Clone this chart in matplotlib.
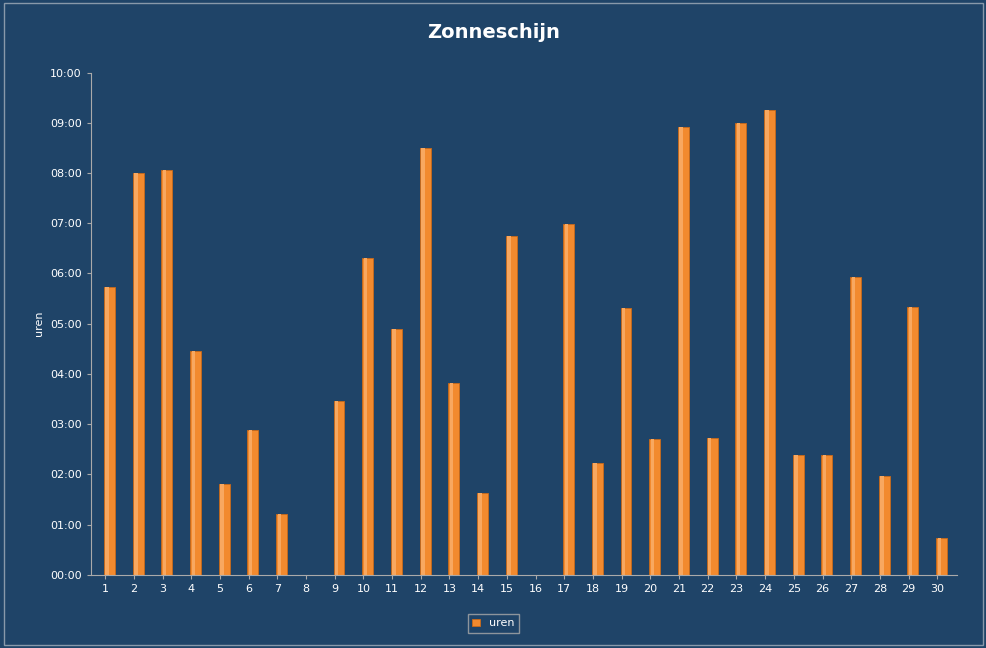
import matplotlib
matplotlib.use("Agg")
import matplotlib.pyplot as plt
import numpy as np

days = list(range(1, 31))
hours = [5.74, 8.0, 8.07, 4.46, 1.81, 2.89, 1.21, 0, 3.47, 6.31, 4.9, 8.5, 3.82, 1.63, 6.75,
         0, 6.99, 2.23, 5.32, 2.71, 8.92, 2.73, 9.0, 9.26, 2.39, 2.39, 5.92, 1.97, 5.34, 0.74]
ytick_labels = ["%02d:00" % h for h in range(11)]

bg = "#1F4468"
fig = plt.figure(figsize=(9.87, 6.48), dpi=100, facecolor=bg)
fig.patches.append(plt.Rectangle((0.004, 0.004), 0.992, 0.992, transform=fig.transFigure,
                                 fill=False, edgecolor="#8899aa", lw=1))
ax = fig.add_axes([0.092, 0.113, 0.878, 0.775], facecolor=bg)
x = np.arange(len(days))
ax.bar(x + 0.15, hours, width=0.38, color="#F28A2E", edgecolor="#C96A1A", lw=0.6, label="uren")
ax.bar(x + 0.07, hours, width=0.12, color="#F8A860", lw=0)
ax.set_xlim(-0.5, len(days) - 0.3)
ax.set_ylim(0, 10)
ax.tick_params(colors="#aaaaaa", labelcolor="white", length=3)
ax.set_yticks(range(11))
ax.set_yticklabels(ytick_labels, fontsize=8)
ax.set_xticks(x)
ax.set_xticklabels([str(d) for d in days], fontsize=8)
for s in ["top", "right"]:
    ax.spines[s].set_visible(False)
for s in ["left", "bottom"]:
    ax.spines[s].set_color("#aaaaaa")
ax.set_ylabel("uren", color="white", fontsize=8)
fig.suptitle("Zonneschijn", color="white", fontsize=14, fontweight="bold", y=0.965)
leg = fig.legend(loc="lower center", bbox_to_anchor=(0.5, 0.015), fontsize=8, facecolor=bg,
                 edgecolor="#aaaaaa", labelcolor="white", handlelength=0.7, fancybox=False)
fig.savefig("out.png", dpi=100, facecolor=bg)
